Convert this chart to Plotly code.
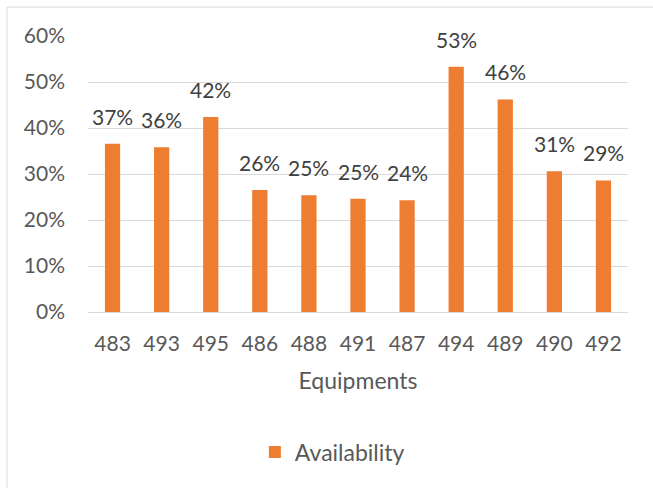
import plotly.graph_objects as go

equipments = ["483", "493", "495", "486", "488", "491", "487", "494", "489", "490", "492"]
availability = [0.366, 0.358, 0.424, 0.265, 0.254, 0.246, 0.243, 0.533, 0.462, 0.306, 0.286]
y_ticks = [0, 0.1, 0.2, 0.3, 0.4, 0.5, 0.6]

FONT = "Lato"
fig = go.Figure()
fig.add_trace(go.Bar(
    x=equipments, y=availability, name="Availability",
    marker=dict(color="#ED7D31", line=dict(width=0)),
))

# category axis: annotation x given as the category index
annotations = [
    dict(x=i, y=v, xref="x", yref="y", text=f"{v*100:.0f}%", showarrow=False,
         yanchor="bottom", yshift=13,
         font=dict(family=FONT, size=21, color="#404040"))
    for i, v in enumerate(availability)
]

fig.update_layout(
    width=653, height=488,
    margin=dict(l=88, r=25, t=36, b=176),
    paper_bgcolor="white", plot_bgcolor="white",
    bargap=0.69,
    font=dict(family=FONT, size=21, color="#595959"),
    showlegend=True,
    legend=dict(orientation="h", x=0.309, xanchor="left", y=-0.507, yanchor="middle",
                font=dict(family=FONT, size=23, color="#595959")),
    xaxis=dict(type="category", showgrid=False, zeroline=False, showline=False,
               ticks="", ticklabelstandoff=17,
               tickfont=dict(family=FONT, size=21, color="#595959"),
               title=dict(text="Equipments", standoff=18,
                          font=dict(family=FONT, size=23, color="#595959"))),
    yaxis=dict(range=[0, 0.6], tickvals=y_ticks, tickformat=".0%",
               showgrid=True, gridcolor="#D9D9D9", gridwidth=1,
               zeroline=True, zerolinecolor="#D9D9D9", zerolinewidth=1,
               showline=False, ticks="", ticklabelstandoff=22,
               tickfont=dict(family=FONT, size=21, color="#595959")),
    annotations=annotations,
    shapes=[dict(type="rect", xref="paper", yref="paper",
                 x0=-0.15, x1=1.2, y0=-0.8, y1=1.105,
                 line=dict(color="#D9D9D9", width=1), fillcolor="rgba(0,0,0,0)",
                 layer="below")],
)

fig.write_html("out.html")
